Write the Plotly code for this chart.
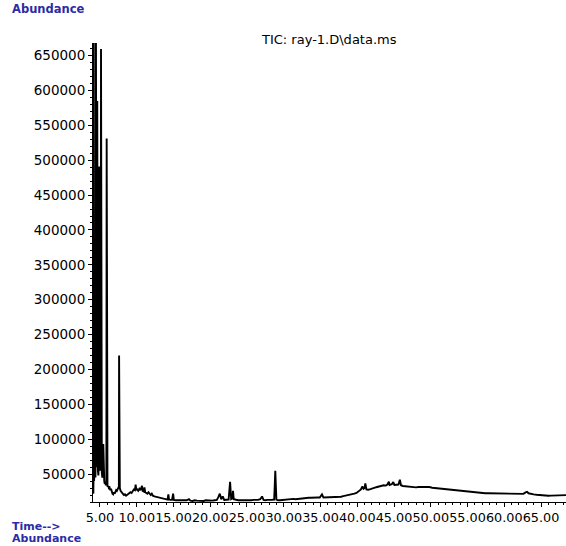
import plotly.graph_objects as go

# Retention time (min) and abundance
time_min = [
    4.05, 4.08, 4.10, 4.13, 4.15, 4.17, 4.20, 4.25, 4.30, 4.33, 4.38, 4.42, 4.45, 4.48,
    4.52, 4.58, 4.63, 4.67, 4.72, 4.78, 4.85, 4.90, 4.94, 5.00, 5.05, 5.10, 5.14, 5.18,
    5.25, 5.32, 5.40, 5.45, 5.50, 5.58, 5.65, 5.72, 5.80, 5.87, 5.91, 5.95, 6.02, 6.10,
    6.20, 6.30, 6.40, 6.50, 6.60, 6.70, 6.80, 6.90, 7.00, 7.10, 7.20, 7.30, 7.40, 7.50,
    7.57, 7.60, 7.63, 7.70, 7.80, 7.90, 8.00, 8.10, 8.25, 8.40, 8.55, 8.70, 8.85, 9.00,
    9.15, 9.30, 9.45, 9.60, 9.75, 9.85, 9.95, 10.05, 10.20, 10.35, 10.50, 10.65, 10.72,
    10.80, 10.95, 11.05, 11.15, 11.30, 11.45, 11.60, 11.75, 11.90, 12.05, 12.20, 12.40,
    12.60, 12.80, 13.00, 13.20, 13.40, 13.60, 13.80, 14.00, 14.20, 14.30, 14.40, 14.60,
    14.80, 14.95, 15.05, 15.30, 15.60, 15.90, 16.20, 16.50, 16.80, 17.10, 17.30, 17.60,
    17.90, 18.20, 18.50, 18.80, 19.10, 19.40, 19.70, 20.00, 20.30, 20.60, 20.90, 21.10,
    21.30, 21.50, 21.70, 21.90, 22.20, 22.50, 22.70, 22.85, 23.00, 23.10, 23.20, 23.50,
    23.80, 24.10, 24.40, 24.70, 25.00, 25.30, 25.60, 25.90, 26.20, 26.50, 26.80, 27.05,
    27.25, 27.50, 27.80, 28.10, 28.40, 28.70, 28.85, 29.00, 29.20, 29.50, 29.80, 30.10,
    30.40, 30.70, 31.00, 31.30, 31.60, 31.90, 32.20, 32.50, 32.80, 33.10, 33.40, 33.70,
    34.00, 34.30, 34.60, 34.90, 35.20, 35.40, 35.70, 36.00, 36.30, 36.60, 36.90, 37.20,
    37.50, 37.80, 38.10, 38.40, 38.70, 39.00, 39.30, 39.60, 39.90, 40.20, 40.50, 40.70,
    40.85, 41.00, 41.10, 41.25, 41.50, 41.80, 42.10, 42.40, 42.70, 43.00, 43.30, 43.60,
    43.90, 44.10, 44.30, 44.40, 44.70, 44.90, 45.05, 45.30, 45.60, 45.80, 45.95, 46.20,
    46.50, 46.80, 47.10, 47.40, 47.70, 48.00, 48.30, 48.60, 48.90, 49.20, 49.50, 49.80,
    50.20, 50.60, 51.00, 51.40, 51.80, 52.20, 52.60, 53.00, 53.40, 53.80, 54.20, 54.60,
    55.00, 55.40, 55.80, 56.20, 56.60, 57.00, 57.40, 57.80, 58.20, 58.60, 59.00, 59.40,
    59.80, 60.20, 60.60, 61.00, 61.40, 61.80, 62.20, 62.60, 62.90, 63.10, 63.30, 63.60,
    64.00, 64.40, 64.80, 65.20, 65.60, 66.00, 66.40, 66.80, 67.20, 67.60, 68.00, 68.40,
]

abundance = [
    23000, 25000, 22000, 60000, 700000, 80000, 40000, 55000, 240000, 60000, 45000, 90000, 720000, 110000,
    60000, 80000, 585000, 90000, 55000, 48000, 70000, 491000, 80000, 55000, 60000, 90000, 659500, 75000,
    52000, 45000, 55000, 93000, 50000, 40000, 36000, 38000, 34000, 40000, 531000, 38000, 32000, 33000,
    30000, 31000, 27000, 29000, 24000, 22000, 21000, 24000, 22000, 25000, 27000, 26000, 29000, 30000,
    32000, 220000, 31000, 30000, 26000, 25000, 23000, 22000, 20000, 21000, 19000, 20000, 21000, 22000,
    24000, 23000, 26000, 28000, 27000, 35000, 27000, 28000, 26000, 29000, 27000, 30000, 33000,
    26000, 25000, 31000, 24000, 23000, 22000, 24000, 21000, 20000, 22000, 19000, 18000,
    17500, 17000, 16500, 16000, 16500, 15000, 14500, 14000, 13500, 21000, 13500, 13000,
    13000, 22000, 13000, 12500, 12500, 12000, 12500, 12000, 12500, 14000, 12000, 11500,
    12500, 12000, 11500, 12000, 11500, 12500, 12000, 12500, 12000, 12500, 13000, 17000,
    22000, 14000, 18000, 13000, 13000, 13500, 39000, 14000, 15000, 26000, 14000, 13000,
    12500, 12500, 12000, 12500, 12500, 12000, 12500, 13000, 12500, 13000, 14000, 18000,
    13000, 12500, 13000, 12500, 13000, 13500, 54700, 13500, 12500, 12500, 13000, 13000,
    13500, 13500, 14000, 14500, 14000, 14500, 15000, 15500, 15000, 15500, 16000, 16000,
    16500, 16000, 16500, 16500, 21000, 16500, 16500, 16500, 17000, 16500, 17000, 17000,
    17000, 17500, 18500, 19000, 20000, 21000, 21500, 22000, 23000, 25000, 28000, 32400,
    29000, 30000, 36700, 28000, 27600, 28500, 30000, 30500, 31500, 32500, 33000, 34000,
    33500, 35000, 39000, 34500, 35500, 38500, 34500, 35000, 35000, 41900, 34000, 33000,
    32500, 32000, 31500, 32000, 31500, 31000, 31500, 31500, 32000, 32500, 32000, 31500,
    30500, 30000, 29500, 29000, 28500, 28000, 27500, 27000, 26500, 26000, 25500, 25000,
    24500, 24000, 23500, 23000, 23000, 22800, 22500, 22500, 22400, 22300, 22000, 22000,
    22200, 22000, 21800, 21800, 21500, 21600, 21500, 21700, 23800, 24500, 22500, 21500,
    21000, 20500, 20000, 19500, 19200, 19000, 19200, 19500, 19800, 19500, 20000, 19800,
]

x_range = [4.05, 68.4]
y_range = [10000, 668000]

BLUE = "#2b2ba6"
FONT = "DejaVu Sans"

fig = go.Figure()
fig.add_trace(go.Scatter(
    x=time_min, y=abundance, mode="lines",
    line=dict(color="black", width=1.9),
    hoverinfo="skip", showlegend=False,
))

axis_common = dict(
    showline=True, linecolor="black", linewidth=1,
    ticks="outside", ticklen=4, tickwidth=1, tickcolor="black",
    showgrid=False, zeroline=False, automargin=False,
)

fig.update_xaxes(
    range=x_range, tick0=5, dtick=5, tickformat=".2f", tickangle=0,
    tickfont=dict(family=FONT, size=12.8, color="black"),
    minor=dict(dtick=1, tick0=5, ticks="outside", ticklen=2, tickcolor="black", showgrid=False),
    **axis_common,
)
fig.update_yaxes(
    range=y_range, tick0=0, dtick=50000, tickformat="d",
    tickfont=dict(family=FONT, size=13.5, color="black"),
    minor=dict(dtick=10000, tick0=0, ticks="outside", ticklen=2, tickcolor="black", showgrid=False),
    **axis_common,
)

L, T, W, H = 93, 43, 566, 546
B = 44
plot_w = W - L
plot_h = H - T - B

def px(xp):
    return (xp - L) / plot_w

def py(yp):
    return (H - B - yp) / plot_h

annotations = [
    dict(text="Abundance", x=px(11), y=py(9), xanchor="left", yanchor="middle",
         font=dict(family=FONT, size=11.5, color=BLUE, weight="bold")),
    dict(text="TIC: ray-1.D\\data.ms", x=px(329), y=py(39), xanchor="center", yanchor="middle",
         font=dict(family=FONT, size=13, color="black")),
    dict(text="Time-->", x=px(11), y=py(526.5), xanchor="left", yanchor="middle",
         font=dict(family=FONT, size=11, color=BLUE, weight="bold")),
    dict(text="Abundance", x=px(11), y=py(538.5), xanchor="left", yanchor="middle",
         font=dict(family=FONT, size=11, color=BLUE, weight="bold")),
]
for a in annotations:
    a.update(xref="paper", yref="paper", showarrow=False, borderpad=0)

fig.update_layout(
    width=W, height=H, autosize=False,
    margin=dict(l=L, r=0, t=T, b=B, pad=0),
    paper_bgcolor="white", plot_bgcolor="white",
    annotations=annotations,
)

fig.write_html(
    "out.html",
    config={"displayModeBar": False, "staticPlot": True},
    post_script="document.body.style.margin='0';document.body.style.overflow='hidden';",
)
